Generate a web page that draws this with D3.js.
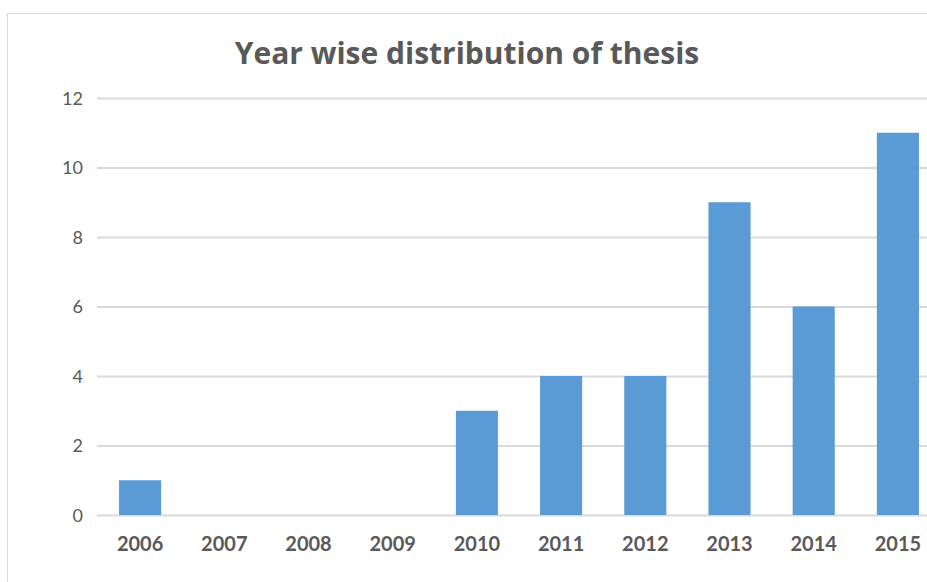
<!DOCTYPE html>
<html>
<head>
<meta charset="utf-8">
<script src="https://cdn.jsdelivr.net/npm/d3@7"></script>
<style>
  html, body { margin: 0; padding: 0; background: #fff; }
  svg { display: block; }
</style>
</head>
<body>
<svg id="chart" width="927" height="582"></svg>
<script>
// Thesis counts per year
const years = ["2006", "2007", "2008", "2009", "2010", "2011", "2012", "2013", "2014", "2015"];
const theses = [1, 0, 0, 0, 3, 4, 4, 9, 6, 11];
const yTicks = [0, 2, 4, 6, 8, 10, 12];
const titleText = "Year wise distribution of thesis";

const W = 927, H = 582;
const svg = d3.select("#chart");
const textColor = "#595959";
const gridColor = "#D9D9D9";
const barColor = "#5B9BD5";
const font = "Lato, 'Open Sans', sans-serif";
const titleFont = "'Open Sans', Lato, sans-serif";

// chart frame (top and left edges visible)
svg.append("path")
  .attr("d", `M7.5,${H} V13.5 H${W}`)
  .attr("fill", "none")
  .attr("stroke", gridColor)
  .attr("stroke-width", 1);

const x = d3.scaleBand().domain(years).range([98, 940]).paddingInner(0.5).paddingOuter(0.25);
const y = d3.scaleLinear().domain([0, 12]).range([515, 98]);

// horizontal gridlines + y labels
const yAxis = d3.axisLeft(y).tickValues(yTicks).tickSize(0).tickPadding(14);
const gy = svg.append("g").attr("transform", "translate(97,0)").call(yAxis);
gy.select(".domain").remove();
gy.selectAll(".tick line").remove();
gy.selectAll(".tick").append("line")
  .attr("x1", 0).attr("x2", W)
  .attr("stroke", gridColor).attr("stroke-width", 2);
gy.selectAll("text")
  .attr("fill", textColor)
  .style("font-family", font)
  .style("font-size", "18px")
  .attr("dy", "0.36em");

// bars
svg.append("g").selectAll("rect")
  .data(years.map((yr, i) => ({ yr, v: theses[i] })))
  .join("rect")
  .attr("x", d => x(d.yr))
  .attr("width", x.bandwidth())
  .attr("y", d => y(d.v))
  .attr("height", d => y(0) - y(d.v))
  .attr("fill", barColor);

// x axis labels
const xAxis = d3.axisBottom(x).tickSize(0).tickPadding(22);
const gx = svg.append("g").attr("transform", `translate(0,${y(0)})`).call(xAxis);
gx.select(".domain").remove();
gx.selectAll("text")
  .attr("fill", textColor)
  .style("font-family", font)
  .style("font-size", "20px")
  .style("font-weight", "bold");

// title
svg.append("text")
  .attr("x", 467)
  .attr("y", 64)
  .attr("text-anchor", "middle")
  .attr("fill", textColor)
  .style("font-family", titleFont)
  .style("font-size", "30px")
  .style("font-weight", "bold")
  .text(titleText);
</script>
</body>
</html>
